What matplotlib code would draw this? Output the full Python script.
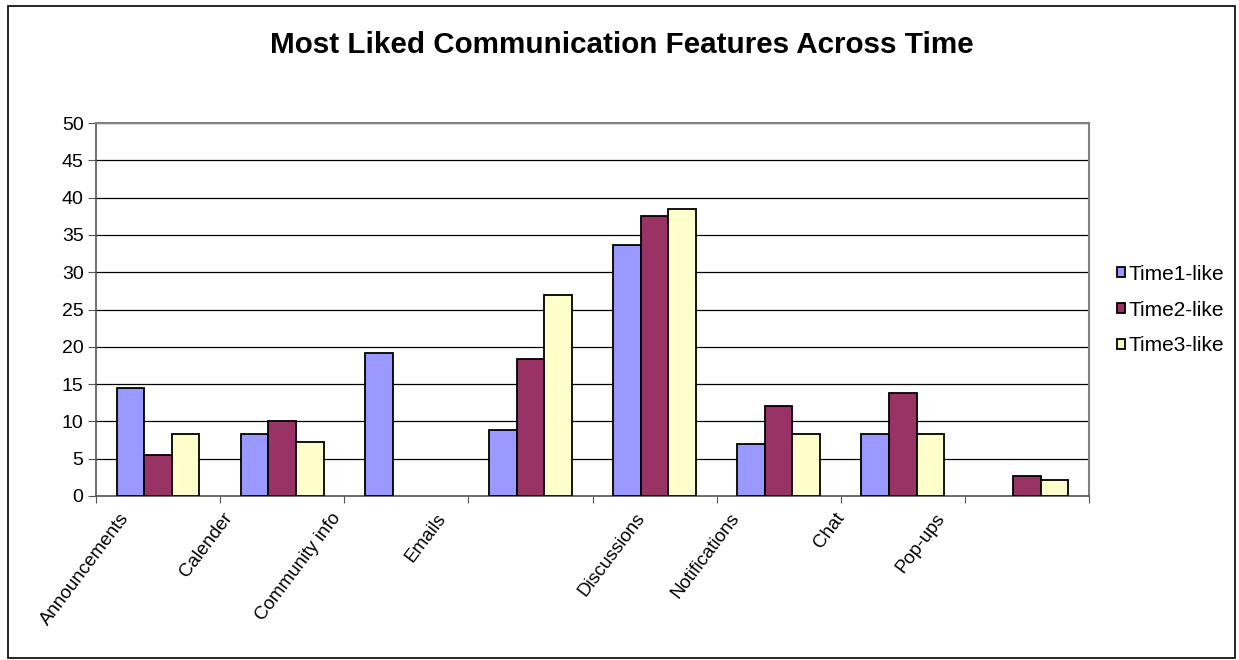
import numpy as np
import matplotlib.pyplot as plt
import matplotlib.transforms as mtransforms
from matplotlib.patches import Rectangle

plt.rcParams['font.family'] = ['Liberation Sans', 'DejaVu Sans']

categories = ['Announcements', 'Calender', 'Community info', 'Emails',
              'Discussions', 'Notifications', 'Chat', 'Pop-ups']
time1 = [14.5, 8.3, 19.2, 8.8, 33.7, 7.0, 8.3, 0.0]
time2 = [5.5, 10.0, 0.0, 18.3, 37.5, 12.1, 13.8, 2.7]
time3 = [8.3, 7.3, 0.0, 27.0, 38.5, 8.3, 8.3, 2.1]
series_names = ['Time1-like', 'Time2-like', 'Time3-like']
colors = ['#9999FF', '#993366', '#FFFFCC']

# horizontal nudge (pixels) of each rotated category label
label_shift = [-39, -60, -76, -95, -20, -49, -68, -92]

W, H = 1239, 660
fig = plt.figure(figsize=(W / 100, H / 100), dpi=100)

# outer chart frame
fig.patches.append(Rectangle((8 / W, 1 - 658 / H), (1235 - 8) / W, (658 - 6) / H,
                             transform=fig.transFigure, fill=False,
                             edgecolor='black', linewidth=1.2))

left, right, top, bottom = 96, 1089, 123, 496
ax = fig.add_axes([left / W, 1 - bottom / H, (right - left) / W, (bottom - top) / H])

x = np.arange(len(categories))
bw = 0.667 / 3
for i, vals in enumerate([time1, time2, time3]):
    lw = [1.3 if v > 0 else 0 for v in vals]
    ax.bar(x + (i - 1) * bw, vals, bw, color=colors[i], edgecolor='black',
           linewidth=lw, label=series_names[i], zorder=3)

ax.set_xlim(-0.5, len(categories) - 0.5)
ax.set_ylim(0, 50)
ax.set_yticks(np.arange(0, 51, 5))
ax.yaxis.grid(True, color='black', linewidth=0.9, zorder=0)
ax.set_axisbelow(True)

# category ticks sit between groups
ax.set_xticks(np.arange(-0.5, len(categories) + 0.5, 1))
ax.set_xticklabels([])
ax.set_xticks(x, minor=True)
ax.set_xticklabels(categories, minor=True, rotation=53, ha='right',
                   rotation_mode='anchor', fontsize=13.5)
ax.tick_params(axis='x', which='minor', length=0, pad=10)
ax.tick_params(axis='x', which='major', length=5, direction='out', color='#555555')
ax.tick_params(axis='y', length=6, direction='out', labelsize=14, pad=3,
               color='#555555')

for lab, dx in zip(ax.get_xticklabels(minor=True), label_shift):
    lab.set_transform(lab.get_transform() +
                      mtransforms.ScaledTranslation(dx / 100, 0, fig.dpi_scale_trans))

for s in ['top', 'right']:
    ax.spines[s].set_color('#808080')
    ax.spines[s].set_linewidth(1.5)
for s in ['left', 'bottom']:
    ax.spines[s].set_color('#555555')
    ax.spines[s].set_linewidth(1.2)

fig.text(622 / W, 1 - 45 / H, 'Most Liked Communication Features Across Time',
         ha='center', va='center', fontsize=21.3, fontweight='bold')

ax.legend(loc='center left', bbox_to_anchor=(1117 / W, 1 - 310 / H),
          bbox_transform=fig.transFigure, frameon=False, fontsize=15,
          handlelength=0.37, handleheight=0.37, handletextpad=0.2,
          labelspacing=0.8, borderpad=0, borderaxespad=0)

fig.savefig('out.png', dpi=100)
